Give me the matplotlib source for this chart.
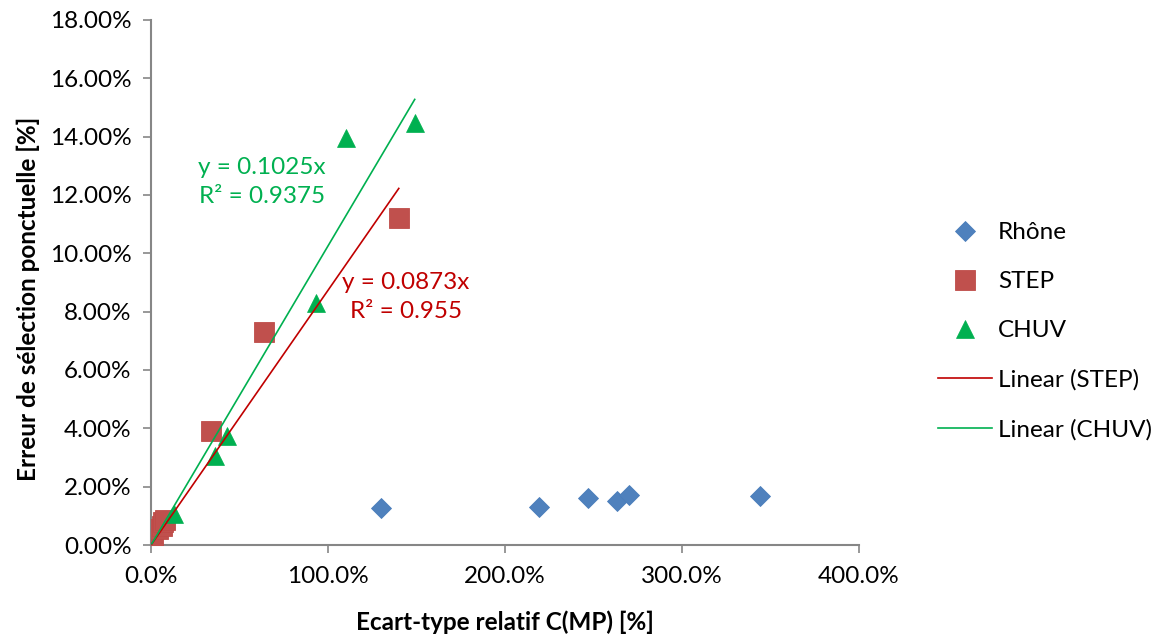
import numpy as np
import matplotlib.pyplot as plt
from matplotlib.ticker import FuncFormatter

plt.rcParams["font.family"] = ["Lato", "DejaVu Sans"]

# relative std. dev. of C(MP) vs. spot sampling error (fractions)
rhone_x = [1.30, 2.19, 2.47, 2.63, 2.70, 3.44]
rhone_y = [0.0126, 0.0130, 0.0161, 0.0152, 0.0170, 0.0168]

step_x = [0.005, 0.01, 0.04, 0.06, 0.07, 0.08, 0.34, 0.64, 1.40]
step_y = [0.0015, 0.0008, 0.0055, 0.0065, 0.0080, 0.0085, 0.0390, 0.0730, 0.1120]

chuv_x = [0.13, 0.36, 0.43, 0.93, 1.10, 1.49]
chuv_y = [0.0105, 0.0305, 0.0375, 0.0830, 0.1395, 0.1445]

# trendlines forced through the origin
step_slope, step_r2 = 0.0873, 0.955
chuv_slope, chuv_r2 = 0.1025, 0.9375

blue = "#4F81BD"
red = "#C0504D"
green = "#00B050"
dark_red = "#C00000"
axis_grey = "#868686"
fs = 17.5

fig = plt.figure(figsize=(11.56, 6.39), dpi=100)
ax = fig.add_axes([0.1306, 0.147, 0.6125, 0.822])

ax.plot(rhone_x, rhone_y, "D", color=blue, ms=10.5, mec="#4A7EBB", mew=0.6, label="Rhône", zorder=3)
ax.plot(step_x, step_y, "s", color=red, ms=14, mec="#BE4B48", mew=0.6, label="STEP", zorder=3)
ax.plot(chuv_x, chuv_y, "^", color=green, ms=13, mec=green, mew=0.5, label="CHUV", zorder=3)

xs = np.array([min(step_x), max(step_x)])
ax.plot(xs, step_slope * xs, color=dark_red, lw=1.2, label="Linear (STEP)", zorder=4)
xc = np.array([min(step_x), max(chuv_x)])
ax.plot(xc, chuv_slope * xc, color=green, lw=1.2, label="Linear (CHUV)", zorder=4)

ax.text(0.625, 0.1245, f"y = {chuv_slope}x\nR² = {chuv_r2}", color=green, fontsize=fs,
        ha="center", va="center", linespacing=1.45)
ax.text(1.44, 0.0850, f"y = {step_slope}x\nR² = {step_r2}", color=dark_red, fontsize=fs,
        ha="center", va="center", linespacing=1.45)

ax.set_xlim(0, 4)
ax.set_ylim(0, 0.18)
ax.set_xticks(np.arange(0, 4.01, 1))
ax.set_yticks(np.arange(0, 0.181, 0.02))
ax.xaxis.set_major_formatter(FuncFormatter(lambda v, p: f"{v * 100:.1f}%"))
ax.yaxis.set_major_formatter(FuncFormatter(lambda v, p: f"{v * 100:.2f}%"))
ax.tick_params(axis="both", colors=axis_grey, labelcolor="black", labelsize=fs, length=6, width=1.2)
ax.tick_params(axis="y", pad=8)
ax.tick_params(axis="x", pad=9)

for side in ("top", "right"):
    ax.spines[side].set_visible(False)
for side in ("left", "bottom"):
    ax.spines[side].set_color(axis_grey)
    ax.spines[side].set_linewidth(1.5)

ax.set_xlabel("Ecart-type relatif C(MP) [%]", fontsize=fs, fontweight="bold", labelpad=17)
ax.set_ylabel("Erreur de sélection ponctuelle [%]", fontsize=fs, fontweight="bold")
ax.yaxis.set_label_coords(-0.157, 0.468)

ax.legend(loc="center left", bbox_to_anchor=(1.112, 0.407), frameon=False, fontsize=fs,
          handlelength=2.2, labelspacing=1.15, handletextpad=0.25, borderaxespad=0,
          borderpad=0)

fig.savefig("out.png", dpi=100)
